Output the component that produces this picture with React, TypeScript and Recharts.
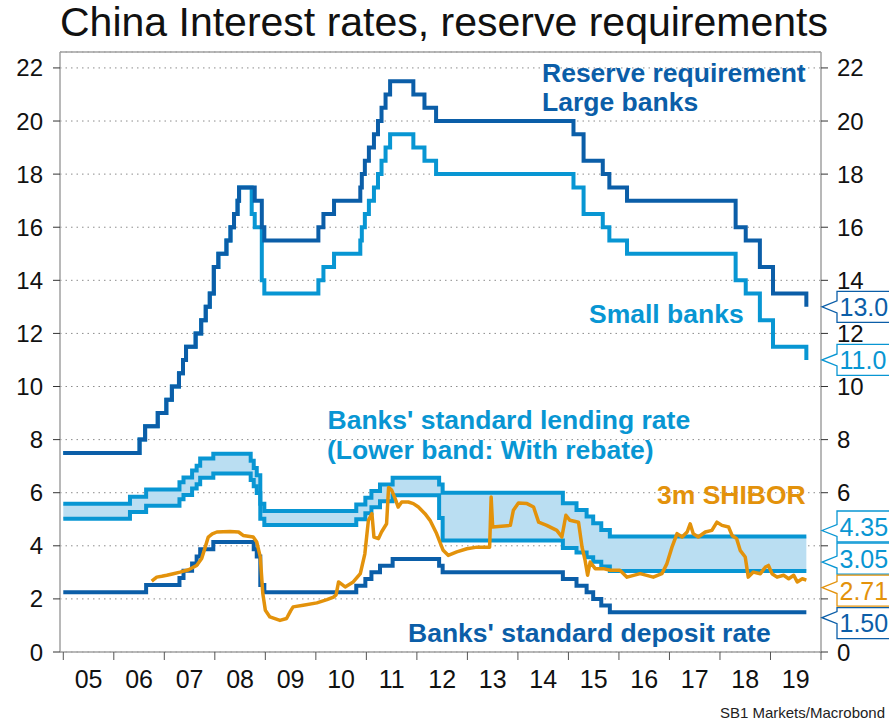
import { ComposedChart, Line, Area, XAxis, YAxis, CartesianGrid, ReferenceLine, ReferenceDot } from 'recharts';

const DARK = '#0b5ea8';
const LIGHT = '#0896d3';
const ORANGE = '#e3920b';
const BAND = '#badef2';
const AXIS = '#a0a0a0';

const W = 889;
const H = 722;
const X_MIN = 2004.935;
const X_MAX = 2020;
const Y_MAX = 22.6;
const LEFT_W = 60;
const RIGHT_W = 68;

const YEAR_TICKS = [2005, 2006, 2007, 2008, 2009, 2010, 2011, 2012, 2013, 2014, 2015, 2016, 2017, 2018, 2019, 2020];
const Y_TICKS = [0, 2, 4, 6, 8, 10, 12, 14, 16, 18, 20, 22];

// reserve requirement ratio, large banks (%)
const LARGE_DATES = [
  2005.0, 2006.51, 2006.62, 2006.87, 2007.04, 2007.15, 2007.29, 2007.37, 2007.43, 2007.62, 2007.73,
  2007.82, 2007.9, 2007.98, 2008.07, 2008.23, 2008.31, 2008.38, 2008.45, 2008.48, 2008.79, 2008.93,
  2008.98, 2010.05, 2010.15, 2010.36, 2010.88, 2010.91, 2010.97, 2011.05, 2011.15, 2011.23, 2011.3,
  2011.38, 2011.47, 2011.93, 2012.15, 2012.38, 2015.1, 2015.3, 2015.68, 2015.81, 2016.16, 2018.31,
  2018.51, 2018.79, 2019.05, 2019.71,
];
const LARGE_RR = [
  7.5, 8.0, 8.5, 9.0, 9.5, 10.0, 10.5, 11.0, 11.5, 12.0, 12.5,
  13.0, 13.5, 14.5, 15.0, 15.5, 16.0, 16.5, 17.0, 17.5, 17.0, 16.0,
  15.5, 16.0, 16.5, 17.0, 17.5, 18.0, 18.5, 19.0, 19.5, 20.0, 20.5,
  21.0, 21.5, 21.0, 20.5, 20.0, 19.5, 18.5, 18.0, 17.5, 17.0, 16.0,
  15.5, 14.5, 13.5, 13.0,
];

// reserve requirement ratio, small banks (%)
const SMALL_DATES = [
  2005.0, 2006.51, 2006.62, 2006.87, 2007.04, 2007.15, 2007.29, 2007.37, 2007.43, 2007.62, 2007.73,
  2007.82, 2007.9, 2007.98, 2008.07, 2008.23, 2008.31, 2008.38, 2008.45, 2008.48, 2008.73, 2008.79,
  2008.93, 2008.98, 2010.05, 2010.15, 2010.36, 2010.88, 2010.91, 2010.97, 2011.05, 2011.15, 2011.23,
  2011.3, 2011.38, 2011.47, 2011.93, 2012.15, 2012.38, 2015.1, 2015.3, 2015.68, 2015.81, 2016.16,
  2018.31, 2018.51, 2018.79, 2019.05, 2019.71,
];
const SMALL_RR = [
  7.5, 8.0, 8.5, 9.0, 9.5, 10.0, 10.5, 11.0, 11.5, 12.0, 12.5,
  13.0, 13.5, 14.5, 15.0, 15.5, 16.0, 16.5, 17.0, 17.5, 16.5, 16.0,
  14.0, 13.5, 14.0, 14.5, 15.0, 15.5, 16.0, 16.5, 17.0, 17.5, 18.0,
  18.5, 19.0, 19.5, 19.0, 18.5, 18.0, 17.5, 16.5, 16.0, 15.5, 15.0,
  14.0, 13.5, 12.5, 11.5, 11.0,
];

// 1y benchmark lending rate and lower band (with rebate)
const LEND_DATES = [
  2005.0, 2006.32, 2006.64, 2007.3, 2007.38, 2007.55, 2007.64, 2007.71, 2007.97, 2008.71, 2008.77,
  2008.83, 2008.9, 2008.98, 2010.8, 2010.98, 2011.1, 2011.27, 2011.52, 2012.44, 2012.51, 2014.89,
  2015.16, 2015.36, 2015.49, 2015.65, 2015.82, 2019.71,
];
const LEND_UPPER = [
  5.58, 5.85, 6.12, 6.39, 6.57, 6.84, 7.02, 7.29, 7.47, 7.2, 6.93,
  6.66, 5.58, 5.31, 5.56, 5.81, 6.06, 6.31, 6.56, 6.31, 6.0, 5.6,
  5.35, 5.1, 4.85, 4.6, 4.35, 4.35,
];
const LEND_LOWER = [
  5.02, 5.27, 5.51, 5.75, 5.91, 6.16, 6.32, 6.56, 6.72, 6.48, 6.24,
  5.99, 5.02, 4.78, 5.0, 5.23, 5.45, 5.68, 5.9, 5.05, 4.2, 3.92,
  3.75, 3.57, 3.4, 3.22, 3.05, 3.05,
];

// 1y benchmark deposit rate
const DEP_DATES = [
  2005.0, 2006.64, 2007.3, 2007.38, 2007.55, 2007.64, 2007.71, 2007.97, 2008.77, 2008.83, 2008.9,
  2008.98, 2010.8, 2010.98, 2011.1, 2011.27, 2011.52, 2012.44, 2012.51, 2014.89, 2015.16, 2015.36,
  2015.49, 2015.65, 2015.82, 2019.71,
];
const DEP_RATE = [
  2.25, 2.52, 2.79, 3.06, 3.33, 3.6, 3.87, 4.14, 3.87, 3.6, 2.52,
  2.25, 2.5, 2.75, 3.0, 3.25, 3.5, 3.25, 3.0, 2.75, 2.5, 2.25,
  2.0, 1.75, 1.5, 1.5,
];

// 3m SHIBOR
const SHIBOR_DATES = [
  2006.75, 2006.85, 2006.95, 2007.05, 2007.18, 2007.31, 2007.48, 2007.64, 2007.74, 2007.81, 2007.87,
  2007.95, 2008.04, 2008.3, 2008.47, 2008.56, 2008.76, 2008.83, 2008.9, 2008.95, 2009.0, 2009.09,
  2009.29, 2009.42, 2009.5, 2009.55, 2009.75, 2010.02, 2010.22, 2010.35, 2010.4, 2010.45, 2010.58,
  2010.74, 2010.88, 2010.97, 2011.04, 2011.11, 2011.15, 2011.24, 2011.3, 2011.4, 2011.44, 2011.5,
  2011.57, 2011.63, 2011.7, 2011.83, 2011.93, 2012.03, 2012.16, 2012.26, 2012.39, 2012.52, 2012.62,
  2012.79, 2012.99, 2013.19, 2013.44, 2013.47, 2013.5, 2013.85, 2013.91, 2014.01, 2014.18, 2014.31,
  2014.41, 2014.57, 2014.77, 2014.87, 2014.95, 2015.03, 2015.2, 2015.27, 2015.33, 2015.38, 2015.43,
  2015.53, 2015.69, 2015.83, 2016.02, 2016.16, 2016.42, 2016.68, 2016.85, 2016.95, 2017.05, 2017.15,
  2017.25, 2017.35, 2017.41, 2017.47, 2017.57, 2017.71, 2017.84, 2017.94, 2018.04, 2018.17, 2018.24,
  2018.33, 2018.4, 2018.5, 2018.56, 2018.66, 2018.8, 2018.9, 2018.96, 2019.03, 2019.13, 2019.26,
  2019.36, 2019.46, 2019.53, 2019.63, 2019.71,
];
const SHIBOR = [
  2.67, 2.82, 2.85, 2.89, 2.95, 3.01, 3.1, 3.26, 3.52, 3.95, 4.33,
  4.45, 4.52, 4.54, 4.52, 4.39, 4.33, 4.14, 3.58, 2.2, 1.57, 1.32,
  1.19, 1.26, 1.55, 1.7, 1.76, 1.85, 1.97, 2.07, 2.15, 2.64, 2.45,
  2.64, 2.95, 3.7, 4.96, 5.21, 4.33, 4.27, 4.52, 4.83, 6.2, 6.1,
  5.78, 5.46, 5.65, 5.65, 5.59, 5.46, 5.21, 4.96, 4.46, 3.83, 3.64,
  3.77, 3.89, 3.95, 3.95, 5.84, 4.71, 4.77, 5.34, 5.61, 5.59, 5.46,
  4.89, 4.77, 4.58, 4.33, 5.15, 4.96, 4.89, 3.95, 3.45, 2.89, 3.39,
  3.14, 3.14, 3.08, 3.08, 2.82, 2.95, 2.82, 2.95, 3.33, 3.95, 4.46,
  4.33, 4.52, 4.83, 4.46, 4.33, 4.52, 4.58, 4.89, 4.77, 4.71, 4.39,
  4.27, 3.83, 3.58, 2.82, 3.01, 2.95, 3.2, 3.26, 2.95, 2.82, 2.89,
  2.76, 2.89, 2.64, 2.76, 2.71,
];

// last values shown in the right-hand boxes
const LAST_VALUES = [13.0, 11.0, 4.35, 3.05, 2.71, 1.5];
const LAST_LABELS = ['13.0', '11.0', '4.35', '3.05', '2.71', '1.50'];
const LAST_COLORS = [DARK, LIGHT, LIGHT, LIGHT, ORANGE, DARK];
// vertical nudges (px) so the boxes don't collide: box centre, pointer tip
const BOX_NUDGE = [0, 0, -10, -12.5, 10.5, 11];
const TIP_NUDGE = [0, 0, -6, -9, 7.5, 5.5];

const rows = (dates: number[], values: number[]) => dates.map((t, i) => ({ t, v: values[i] }));

const largeData = rows(LARGE_DATES, LARGE_RR);
const smallData = rows(SMALL_DATES, SMALL_RR);
const depData = rows(DEP_DATES, DEP_RATE);
const shiborData = rows(SHIBOR_DATES, SHIBOR);
const lendData = LEND_DATES.map((t, i) => ({
  t,
  upper: LEND_UPPER[i],
  lower: LEND_LOWER[i],
  range: [LEND_LOWER[i], LEND_UPPER[i]],
}));

const HALF_YEAR = (W - LEFT_W - RIGHT_W) / (X_MAX - X_MIN) / 2;

const YearTick = ({ x, y, payload }: any) => {
  if (payload.value >= 2020) return <g />;
  return (
    <text x={x + HALF_YEAR} y={y} dy="0.71em" textAnchor="middle" fontSize={25} fill="#111">
      {String(payload.value).slice(2)}
    </text>
  );
};

// right axis labels sit under the value boxes in the original, so skip the ones a box covers
const coveredByBox = (v: number) =>
  LAST_VALUES.some((lv, i) => Math.abs(lv - v) < 1.1 && BOX_NUDGE[i] !== 0);

const RightTick = ({ x, y, payload }: any) => {
  if (coveredByBox(payload.value)) return <g />;
  return (
    <text x={x} y={y} dy="0.355em" textAnchor="start" fontSize={24} fill="#111">
      {payload.value}
    </text>
  );
};

const Callout = ({ cx, cy, idx }: any) => {
  const color = LAST_COLORS[idx];
  const mid = cy + BOX_NUDGE[idx];
  const tip = cy + TIP_NUDGE[idx];
  const top = mid - 15.5;
  const bottom = mid + 15.5;
  const bx = cx + 16;
  const d = `M${cx + 1},${tip} L${bx},${tip - 6} L${bx},${top} L${bx + 90},${top} L${bx + 90},${bottom} L${bx},${bottom} L${bx},${tip + 6} Z`;
  return (
    <g>
      <path d={d} fill="#fff" stroke={color} strokeWidth={1.3} />
      <text x={bx + 2.5} y={mid + 9} fontSize={25} fill={color}>
        {LAST_LABELS[idx]}
      </text>
    </g>
  );
};

const lineProps = {
  dataKey: 'v',
  dot: false,
  activeDot: false,
  isAnimationActive: false,
  strokeWidth: 4,
} as const;

export default function App() {
  return (
    <div
      style={{
        position: 'absolute',
        left: 0,
        top: 0,
        width: W,
        height: H,
        background: '#fff',
        fontFamily: '"Liberation Sans", Arial, sans-serif',
      }}
    >
      <ComposedChart width={W} height={H} margin={{ top: 52, right: 0, bottom: 0, left: 0 }}>
        <CartesianGrid vertical={false} stroke="#8c8c8c" strokeDasharray="1.5 4" />
        <XAxis
          dataKey="t"
          type="number"
          domain={[X_MIN, X_MAX]}
          ticks={YEAR_TICKS}
          allowDataOverflow
          height={70}
          tickSize={8}
          tickMargin={10}
          tick={<YearTick />}
          tickLine={{ stroke: '#555' }}
          axisLine={{ stroke: AXIS, strokeWidth: 1.5 }}
        />
        <YAxis
          type="number"
          domain={[0, Y_MAX]}
          ticks={Y_TICKS}
          allowDataOverflow
          width={LEFT_W}
          tickSize={7}
          tickMargin={10}
          tick={{ fontSize: 24, fill: '#111' }}
          tickLine={{ stroke: '#333' }}
          axisLine={{ stroke: AXIS, strokeWidth: 1.5 }}
        />
        <YAxis
          yAxisId="right"
          orientation="right"
          type="number"
          domain={[0, Y_MAX]}
          ticks={Y_TICKS}
          allowDataOverflow
          width={RIGHT_W}
          tickSize={7}
          tickMargin={9}
          tick={<RightTick />}
          tickLine={{ stroke: '#333' }}
          axisLine={{ stroke: AXIS, strokeWidth: 1.5 }}
        />
        <ReferenceLine y={Y_MAX} stroke={AXIS} strokeWidth={1.5} />

        <Area
          data={lendData}
          dataKey="range"
          type="stepAfter"
          fill={BAND}
          fillOpacity={1}
          stroke="none"
          isAnimationActive={false}
          activeDot={false}
        />
        <Line {...lineProps} data={smallData} type="stepAfter" stroke={LIGHT} />
        <Line {...lineProps} data={largeData} type="stepAfter" stroke={DARK} />
        <Line {...lineProps} data={lendData} dataKey="upper" type="stepAfter" stroke={LIGHT} />
        <Line {...lineProps} data={lendData} dataKey="lower" type="stepAfter" stroke={LIGHT} />
        <Line {...lineProps} data={depData} type="stepAfter" stroke={DARK} />
        <Line {...lineProps} data={shiborData} type="linear" stroke={ORANGE} strokeWidth={3.5} strokeLinejoin="round" />

        {LAST_VALUES.map((v, i) => (
          <ReferenceDot
            key={i}
            x={X_MAX}
            y={v}
            r={0}
            ifOverflow="visible"
            shape={(p: any) => <Callout cx={p.cx} cy={p.cy} idx={i} />}
          />
        ))}
      </ComposedChart>

      <svg width={W} height={H} style={{ position: 'absolute', left: 0, top: 0, pointerEvents: 'none' }}>
        <text x={444} y={36} textAnchor="middle" fontSize={41} fill="#111">
          China Interest rates, reserve requirements
        </text>
        <g fontSize={26.5} fontWeight="bold">
          <text x={542} y={81.5} fill={DARK}>Reserve requirement</text>
          <text x={542} y={111} fill={DARK}>Large banks</text>
          <text x={589} y={323} fill={LIGHT}>Small banks</text>
          <text x={327.5} y={429} fill={LIGHT}>Banks' standard lending rate</text>
          <text x={327} y={459} fill={LIGHT}>(Lower band: With rebate)</text>
          <text x={657} y={504} fill={ORANGE}>3m SHIBOR</text>
          <text x={408} y={641.5} fill={DARK}>Banks' standard deposit rate</text>
        </g>
        <text x={885} y={718} textAnchor="end" fontSize={15} fill="#222">
          SB1 Markets/Macrobond
        </text>
      </svg>
    </div>
  );
}
